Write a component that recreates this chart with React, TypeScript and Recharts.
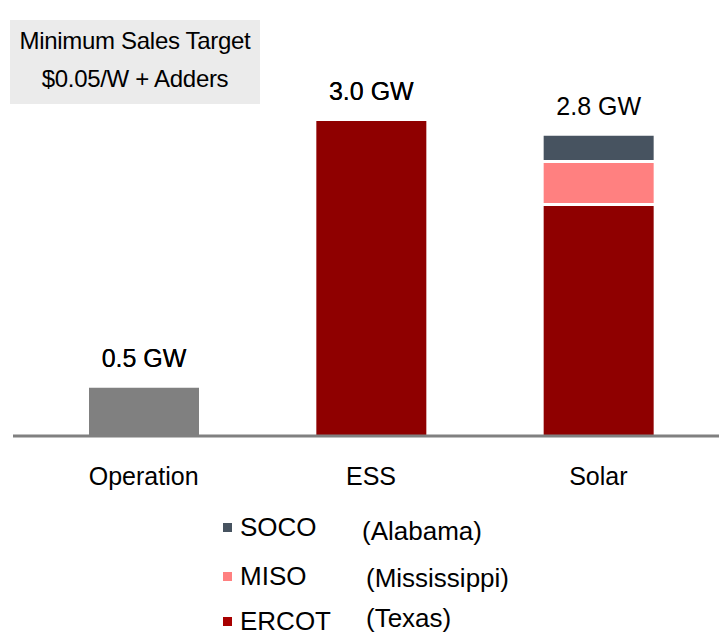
import { BarChart, Bar, XAxis, YAxis, LabelList, Rectangle } from 'recharts';

const categories = ['Operation', 'ESS', 'Solar'];
const operationValues = [0.46, null, null];
const essValues = [null, 3.0, null];
const ercotValues = [null, null, 2.19];
const misoValues = [null, null, 0.41];
const socoValues = [null, null, 0.26];
const totalLabels = ['0.5 GW', '3.0 GW', '2.8 GW'];

const legendItems = [
  { name: 'SOCO', region: '(Alabama)', color: '#475360' },
  { name: 'MISO', region: '(Mississippi)', color: '#FF8080' },
  { name: 'ERCOT', region: '(Texas)', color: '#A80000' },
];

const FONT = '"Liberation Sans", Arial, sans-serif';
const GRAY = '#808080';
const RED = '#8F0000';

const data = categories.map((name, i) => ({
  name,
  label: totalLabels[i],
  operation: operationValues[i],
  ess: essValues[i],
  ercot: ercotValues[i],
  miso: misoValues[i],
  soco: socoValues[i],
}));

// stacked segments leave a thin white gap below them
function GapShape(props: any) {
  const { x, y, width, height, fill } = props;
  if (!height) return null;
  return <Rectangle x={x} y={y} width={width} height={Math.max(height - 3, 0)} fill={fill} />;
}

function TotalLabel(props: any) {
  const { x, y, width, value } = props;
  if (value == null || x == null) return null;
  return (
    <text x={x + width / 2} y={y - 21} textAnchor="middle" fontSize={25} fontFamily={FONT} fill="#000">
      {value}
    </text>
  );
}

function CategoryTick(props: any) {
  const { x, y, payload } = props;
  return (
    <text x={x} y={y + 47} textAnchor="middle" fontSize={25} fontFamily={FONT} fill="#000">
      {payload.value}
    </text>
  );
}

const nameY = [536, 585, 630];
const regionY = [540, 587, 627];
const regionX = [362, 366, 366];

export default function App() {
  return (
    <div style={{ position: 'absolute', left: 0, top: 0, width: 719, height: 635, background: '#fff', fontFamily: FONT, overflow: 'hidden' }}>
      <BarChart
        width={719}
        height={635}
        data={data}
        barSize={110}
        margin={{ top: 79, right: 0, left: 13, bottom: 139 }}
      >
        <YAxis hide domain={[0, 3.4]} />
        <XAxis
          dataKey="name"
          height={60}
          padding={{ left: 17, right: 7 }}
          axisLine={{ stroke: GRAY, strokeWidth: 3 }}
          tickLine={false}
          tickSize={0}
          tick={<CategoryTick />}
          interval={0}
        />
        <Bar dataKey="operation" stackId="a" fill={GRAY} isAnimationActive={false}>
          <LabelList dataKey="label" content={<TotalLabel />} />
        </Bar>
        <Bar dataKey="ess" stackId="a" fill={RED} isAnimationActive={false}>
          <LabelList dataKey="label" content={<TotalLabel />} />
        </Bar>
        <Bar dataKey="ercot" stackId="a" fill={RED} isAnimationActive={false} />
        <Bar dataKey="miso" stackId="a" fill="#FF8080" shape={<GapShape />} isAnimationActive={false} />
        <Bar dataKey="soco" stackId="a" fill="#475360" shape={<GapShape />} isAnimationActive={false}>
          <LabelList dataKey="label" content={<TotalLabel />} />
        </Bar>
      </BarChart>

      <svg width={719} height={635} style={{ position: 'absolute', left: 0, top: 0, pointerEvents: 'none' }}>
        <rect x={10} y={20} width={250} height={84} fill="#EBEBEB" />
        <text x={135} y={49} textAnchor="middle" fontSize={24} letterSpacing={-0.3} fontFamily={FONT} fill="#000">
          Minimum Sales Target
        </text>
        <text x={135} y={87} textAnchor="middle" fontSize={24} letterSpacing={-0.3} fontFamily={FONT} fill="#000">
          $0.05/W + Adders
        </text>
        {legendItems.map((item, i) => (
          <g key={item.name}>
            <rect x={223} y={nameY[i] - 13} width={9} height={9} fill={item.color} />
            <text x={240} y={nameY[i]} fontSize={26} fontFamily={FONT} fill="#000">
              {item.name}
            </text>
            <text x={regionX[i]} y={regionY[i]} fontSize={26} fontFamily={FONT} fill="#000">
              {item.region}
            </text>
          </g>
        ))}
      </svg>
    </div>
  );
}
